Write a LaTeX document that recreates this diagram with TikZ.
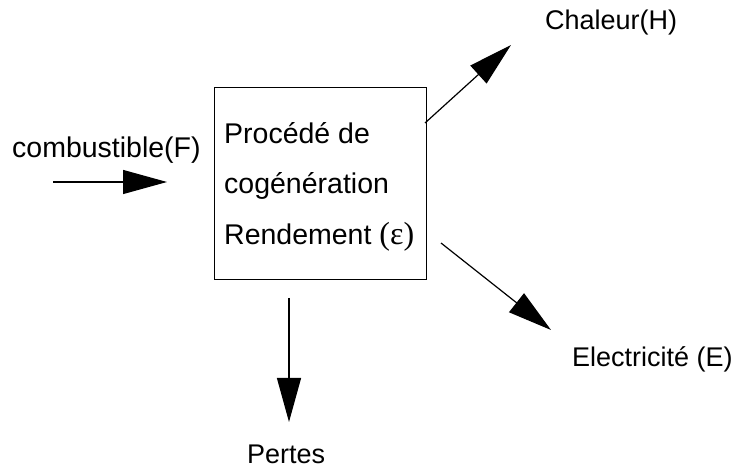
\documentclass[tikz,border=0pt]{standalone}
\usepackage{fontspec}
\setmainfont{Liberation Sans}
\newfontfamily\serifeps{Liberation Serif}
\usetikzlibrary{arrows.meta}
\begin{document}
\begin{tikzpicture}[x=1pt,y=-1pt,
  lbl/.style={anchor=base west,inner sep=0pt,font=\fontsize{27}{30}\selectfont},
  biglbl/.style={lbl,font=\fontsize{28.5}{32}\selectfont},
  flow/.style={line width=1.2pt,-{Triangle[length=44pt,width=24pt]}},
  boxstyle/.style={draw,line width=1pt,anchor=north west,minimum width=212pt,minimum height=192pt,inner sep=0pt}]
\useasboundingbox (0,0) rectangle (737,470);
\node[boxstyle] (box) at (214,87) {};
\node[biglbl] (l1) at (224,144) {Procédé de};
\node[biglbl] (l2) at (224,194) {cogénération};
\node[biglbl] (l3) at (224,245) {Rendement {\serifeps\fontsize{32}{34}\selectfont(ε)}};
\node[biglbl] (fuel) at (12,158) {combustible(F)};
\node[lbl] (heat) at (545,30) {Chaleur(H)};
\node[lbl] (elec) at (572,367) {Electricité (E)};
\node[lbl] (loss) at (247,464) {Pertes};
\coordinate (fs) at (53,182);
\coordinate (ft) at (167,182);
\coordinate (hs) at (425,123);
\coordinate (ht) at (511,45);
\coordinate (es) at (441,243);
\coordinate (et) at (551,330);
\coordinate (ls) at (289,298);
\coordinate (lt) at (289,422);
\draw[flow] (fs) -- (ft);
\draw[flow] (hs) -- (ht);
\draw[flow] (es) -- (et);
\draw[flow] (ls) -- (lt);
\end{tikzpicture}
\end{document}
